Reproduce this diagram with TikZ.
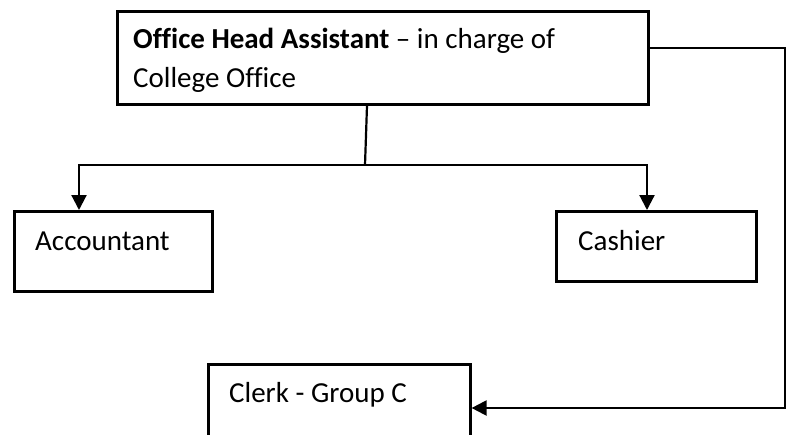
\documentclass[tikz,border=0pt]{standalone}
\usepackage{fontspec}
\setmainfont{Carlito}[Ligatures=NoCommon]
\usetikzlibrary{arrows.meta,calc}
\begin{document}
\begin{tikzpicture}[x=1pt,y=-1pt,
  box/.style={draw,line width=2.6pt,rectangle,inner sep=0pt,anchor=north west},
  boxtext/.style={anchor=base west,inner sep=0pt,font=\fontsize{29}{35}\selectfont},
  link/.style={line width=2.2pt},
  tip/.style={-{Triangle[length=15pt,width=15pt]}}]

\useasboundingbox (0,0) rectangle (792,434);
\clip (0,0) rectangle (792,434);

% boxes
\node[box,minimum width=531pt,minimum height=93pt] (head) at (116,10) {};
\node[box,minimum width=198pt,minimum height=80pt] (acc) at (13,210) {};
\node[box,minimum width=200pt,minimum height=70pt] (cash) at (555,210) {};
\node[box,minimum width=262pt,minimum height=80pt] (clerk) at (207,363) {};

% box texts
\node[boxtext] (headA) at (133,48) {\textbf{Office Head Assistant} – in charge of};
\node[boxtext] (headB) at (133,87) {College Office};
\node[boxtext] (accT) at (35,250) {Accountant};
\node[boxtext] (cashT) at (578,250) {Cashier};
\node[boxtext] (clerkT) at (229,402) {Clerk - Group C};

% connectors
\coordinate (split) at (365,165);
\coordinate (drop) at (785,408);
\draw[link] ($(head.south west)+(251,0)$) -- (split);
\draw[link,tip] (split) -| ($(acc.north west)+(66,0)$);
\draw[link,tip] (split) -| ($(cash.north west)+(92,0)$);
\draw[link,tip] ($(head.north east)+(0,38)$) -| (drop) -- (clerk.east |- drop);
\end{tikzpicture}
\end{document}
